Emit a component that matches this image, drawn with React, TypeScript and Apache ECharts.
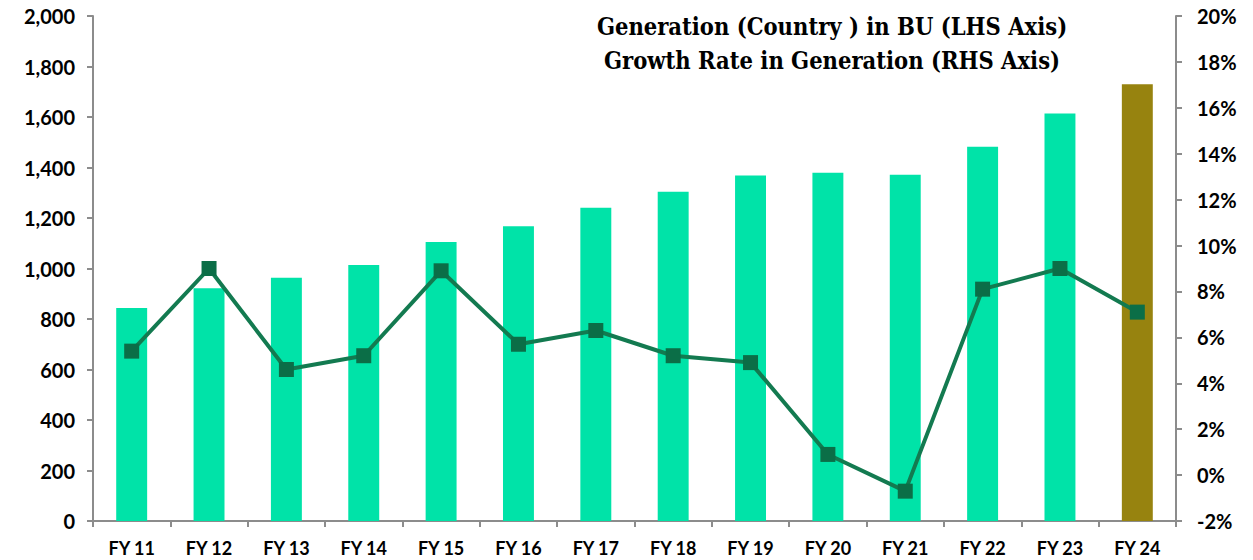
import React, { useEffect, useRef } from "react";
import * as echarts from "echarts";

const categories = ["FY 11", "FY 12", "FY 13", "FY 14", "FY 15", "FY 16", "FY 17", "FY 18", "FY 19", "FY 20", "FY 21", "FY 22", "FY 23", "FY 24"];
const generationBU = [844, 922, 963, 1014, 1105, 1167, 1241, 1304, 1368, 1379, 1371, 1482, 1614, 1730];
const growthRate = [5.4, 9.0, 4.6, 5.2, 8.9, 5.7, 6.3, 5.2, 4.9, 0.9, -0.7, 8.1, 9.0, 7.1];
const titleLines = ["Generation (Country ) in BU (LHS Axis)", "Growth Rate in Generation (RHS Axis)"];

const barColor = "#00E3A8";
const lastBarColor = "#97830F";
const lineColor = "#137A50";
const markerColor = "#0B6E47";

export default function App() {
  const ref = useRef<HTMLDivElement>(null);
  useEffect(() => {
    if (!ref.current) return;
    const chart = echarts.init(ref.current, undefined, { renderer: "svg" });
    const axisFont = { fontFamily: "Lato, 'Open Sans', sans-serif", fontWeight: "bold" as const, color: "#000" };
    chart.setOption({
      animation: false,
      backgroundColor: "#fff",
      title: {
        text: titleLines.join("\n"),
        left: 827,
        top: 5,
        textAlign: "center",
        textStyle: {
          fontFamily: "'DejaVu Serif Condensed', 'DejaVu Serif', serif",
          fontWeight: "bold",
          fontSize: 23.5,
          lineHeight: 34,
          color: "#000",
        },
      },
      grid: { left: 93, right: 77, top: 16, bottom: 39, containLabel: false },
      xAxis: {
        type: "category",
        data: categories,
        axisLine: { lineStyle: { color: "#8c8c8c", width: 2 } },
        axisTick: { show: true, alignWithLabel: false, length: 6, lineStyle: { color: "#8c8c8c", width: 2 } },
        axisLabel: { ...axisFont, fontSize: 18, margin: 18 },
      },
      yAxis: [
        {
          type: "value",
          min: 0,
          max: 2000,
          interval: 200,
          splitLine: { show: false },
          axisLine: { show: true, lineStyle: { color: "#8c8c8c", width: 2 } },
          axisTick: { show: true, length: 6, lineStyle: { color: "#8c8c8c", width: 2 } },
          axisLabel: {
            ...axisFont,
            fontSize: 20,
            margin: 18,
            formatter: (v: number) => v.toLocaleString("en-US"),
          },
        },
        {
          type: "value",
          min: -2,
          max: 20,
          interval: 2,
          position: "right",
          splitLine: { show: false },
          axisLine: { show: true, lineStyle: { color: "#8c8c8c", width: 2 } },
          axisTick: { show: true, length: 6, lineStyle: { color: "#8c8c8c", width: 2 } },
          axisLabel: { ...axisFont, fontSize: 20, margin: 21, formatter: (v: number) => `${v}%` },
        },
      ],
      series: [
        {
          type: "bar",
          yAxisIndex: 0,
          barWidth: "40%",
          data: generationBU.map((v, i) => ({
            value: v,
            itemStyle: { color: i === generationBU.length - 1 ? lastBarColor : barColor },
          })),
        },
        {
          type: "line",
          yAxisIndex: 1,
          data: growthRate,
          symbol: "rect",
          symbolSize: 15,
          lineStyle: { color: lineColor, width: 4 },
          itemStyle: { color: markerColor },
          z: 5,
        },
      ],
    });
    return () => chart.dispose();
  }, []);
  return <div ref={ref} style={{ position: "fixed", left: 0, top: 0, width: 1253, height: 560 }} />;
}
